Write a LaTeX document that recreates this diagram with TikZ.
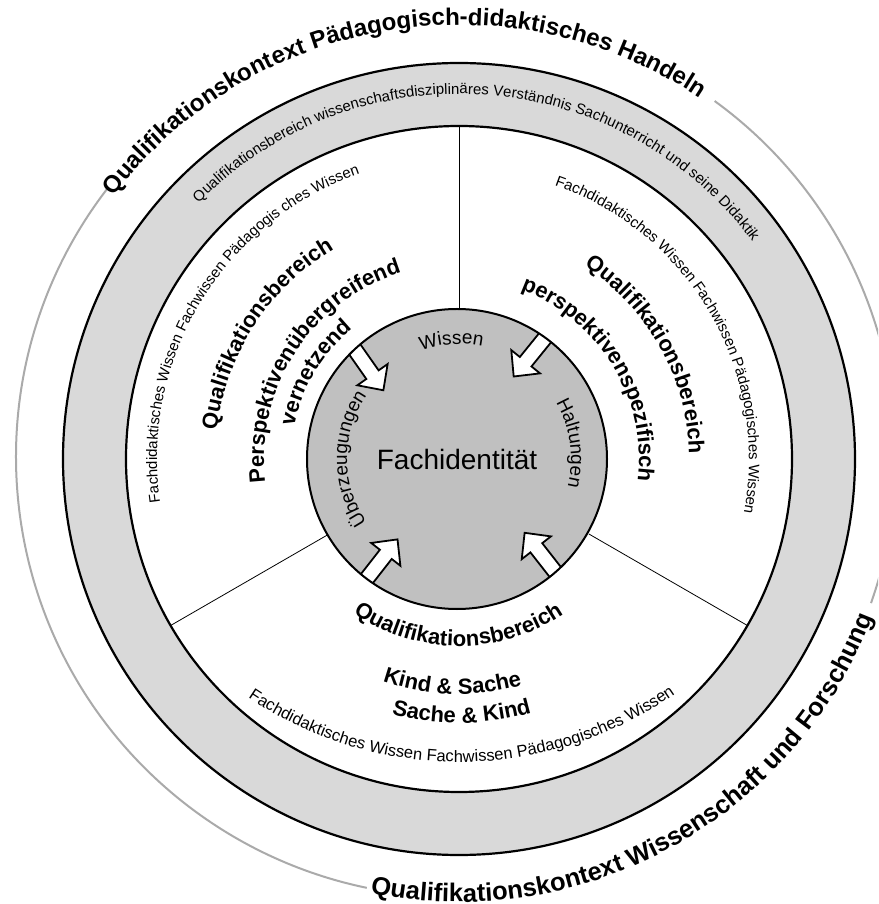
\documentclass[tikz,border=0pt]{standalone}
\usepackage{fontspec}
\setmainfont{Liberation Sans}
\usetikzlibrary{decorations.text}

\definecolor{bandgray}{RGB}{217,217,217}
\definecolor{coregray}{RGB}{192,192,192}
\definecolor{contextgray}{RGB}{170,170,170}

\newcommand\fntContext{\fontsize{24}{24}\selectfont\bfseries}
\newcommand\fntContextB{\fontsize{25.5}{25.5}\selectfont\bfseries}
\newcommand\fntArea{\fontsize{22}{22}\selectfont\bfseries}
\newcommand\fntSmall{\fontsize{15}{15}\selectfont}
\newcommand\fntSmallB{\fontsize{16.5}{16.5}\selectfont}
\newcommand\fntCore{\fontsize{19}{19}\selectfont}

\tikzset{
  curved/.style={decorate, decoration={text along path, text align=center, text={#1}}},
  ringline/.style={line width=2.2pt},
  divider/.style={line width=0.8pt},
  contextarc/.style={contextgray, line width=2pt},
  blockarrow/.style={fill=white, draw=black, line width=1.8pt, line join=miter},
}

\begin{document}
\begin{tikzpicture}[x=1pt,y=1pt]
\useasboundingbox (-459,-445) rectangle (419,459);
\clip (-459,-445) rectangle (419,459);
\fill[white] (-459,-445) rectangle (419,459);

% outer context arcs
\begin{scope}[shift={(-3,2)}]
  \draw[contextarc] (142.5:440) arc[start angle=142.5, end angle=258.3, radius=440];
  \draw[contextarc] (54:440) arc[start angle=54, end angle=-19.4, radius=440];
\end{scope}

% grey ring
\fill[bandgray, even odd rule] (0,0) circle[radius=396] (0,0) circle[radius=333];
\draw[ringline] (0,0) circle[radius=396];
\draw[ringline] (0,0) circle[radius=333];

% sector dividers
\foreach \t in {90,210,330}
  \draw[divider] (\t:150) -- (\t:333);

% core with inward arrows
\begin{scope}[shift={(-2,0)}]
  \node[circle, fill=coregray, minimum size=300pt, inner sep=0pt,
        font=\fontsize{28}{28}\selectfont] (core) at (0,0) {Fachidentität};
  \begin{scope}
    \clip (0,0) circle[radius=150];
    \foreach \a/\b in {133/305, 54/231, 233/52, 311/128}{
      \begin{scope}[shift={(\a:150)}, rotate=\b]
        \draw[blockarrow] (-10,-7.5) -- (31,-7.5) -- (31,-18.5) -- (50,0)
          -- (31,18.5) -- (31,7.5) -- (-10,7.5) -- cycle;
      \end{scope}
    }
  \end{scope}
  \draw[line width=2pt] (core.center) circle[radius=150];
\end{scope}

% context labels
\path[curved={|\fntContext|Qualifikationskontext Pädagogisch-didaktisches Handeln}]
  (179.5:434) arc[start angle=179.5, end angle=19.5, radius=434];
\path[curved={|\fntContextB|Qualifikationskontext Wissenschaft und Forschung}]
  (213.75:443) arc[start angle=213.75, end angle=383.75, radius=443];

% ring label
\path[curved={|\fntSmall|Qualifikationsbereich wissenschaftsdisziplinäres Verständnis Sachunterricht und seine Didaktik}]
  (186:365) arc[start angle=186, end angle=-14, radius=365];

% knowledge labels
\path[curved={|\fntSmall|Fachdidaktisches Wissen Fachwissen Pädagogis ches Wissen}]
  (218.7:302) arc[start angle=218.7, end angle=78.7, radius=302];
\path[curved={|\fntSmall|Fachdidaktisches Wissen Fachwissen Pädagogisches Wissen}]
  (100:290) arc[start angle=100, end angle=-40, radius=290];
\begin{scope}[shift={(0,74)}]
  \path[curved={|\fntSmallB|Fachdidaktisches Wissen Fachwissen Pädagogisches Wissen}]
    (200.5:377) arc[start angle=200.5, end angle=340.5, radius=377];
\end{scope}

% area labels
\path[curved={|\fntArea|Qualifikationsbereich}]
  (207:244) arc[start angle=207, end angle=87, radius=244];
\path[curved={|\fntArea|Perspektivenübergreifend}]
  (222:195) arc[start angle=222, end angle=72, radius=195];
\path[curved={|\fntArea|vernetzend}]
  (199:168) arc[start angle=199, end angle=99, radius=168];

\path[curved={|\fntArea|Qualifikationsbereich}]
  (89.2:230) arc[start angle=89.2, end angle=-30.8, radius=230];
\path[curved={|\fntArea|perspektivenspezifisch}]
  (101.4:180) arc[start angle=101.4, end angle=-38.6, radius=180];

\path[curved={|\fntArea|Qualifikationsbereich}]
  (209.8:187) arc[start angle=209.8, end angle=329.8, radius=187];
\path[curved={|\fntArea|Kind {\&} Sache}]
  (218.3:235) arc[start angle=218.3, end angle=318.3, radius=235];
\path[curved={|\fntArea|Sache {\&} Kind}]
  (220.6:264) arc[start angle=220.6, end angle=320.6, radius=264];

% core labels
\path[curved={|\fntCore|Wissen}]
  (153.7:115) arc[start angle=153.7, end angle=33.7, radius=115];
\path[curved={|\fntCore|Haltungen}]
  (68:112) arc[start angle=68, end angle=-52, radius=112];
\path[curved={|\fntCore|Überzeugungen}]
  (250:112) arc[start angle=250, end angle=110, radius=112];
\end{tikzpicture}
\end{document}
